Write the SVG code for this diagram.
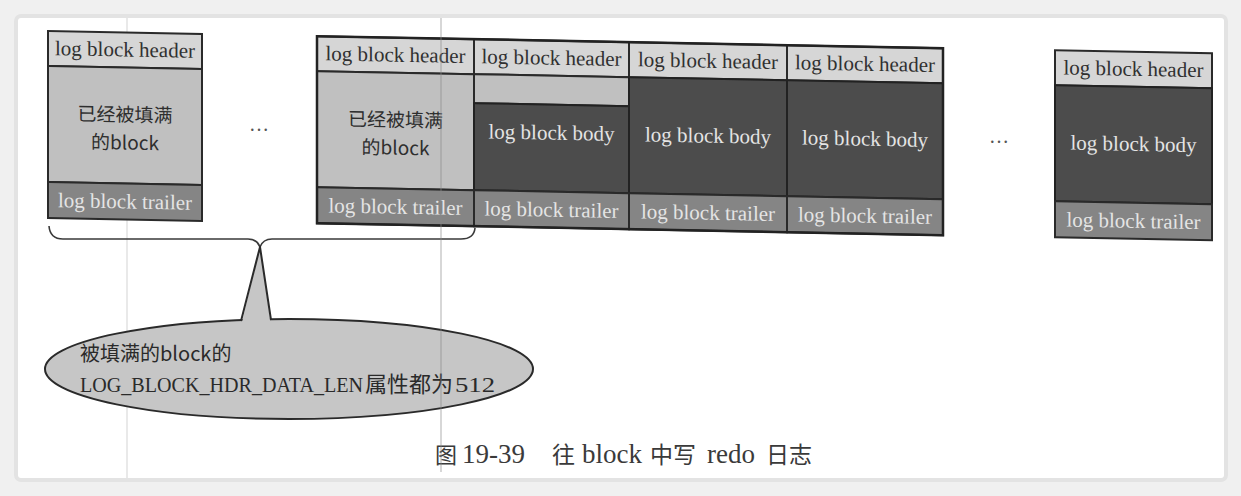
<svg xmlns="http://www.w3.org/2000/svg" width="1241" height="496" viewBox="0 0 1241 496">
<style>
.hdr{fill:#d6d6d6;stroke:#2a2a2a;stroke-width:2}
.fill{fill:#c0c0c0;stroke:#2a2a2a;stroke-width:2}
.body{fill:#4c4c4c;stroke:#222;stroke-width:2}
.trl{fill:#858585;stroke:#2a2a2a;stroke-width:2}
.lt{font-family:"Liberation Serif",serif;font-size:21px;text-anchor:middle}
.dk{fill:#303030}
.wh{fill:#e4e4e4}
.cn{font-family:"Noto Sans CJK SC",sans-serif;font-size:19px;text-anchor:middle;fill:#2e2e2e}
.dots{font-family:"Liberation Serif",serif;font-size:20px;fill:#555;text-anchor:middle}
</style>
<rect x="0" y="0" width="1241" height="496" fill="#f0f0f0"/>
<rect x="14" y="14" width="1214" height="468" rx="7" fill="#e3e3e3"/>
<rect x="18" y="18" width="1206" height="460" rx="3" fill="#ffffff"/>
<line x1="127" y1="18" x2="127" y2="478" stroke="#e2e2e2" stroke-width="1.5"/>

<g id="blocks" transform="translate(48,31) skewY(1.1) translate(-48,-31)">
  <g id="block1">
    <rect class="hdr" x="48" y="31" width="154" height="35"/>
    <rect class="fill" x="48" y="66" width="154" height="116"/>
    <rect class="trl" x="48" y="182" width="154" height="36"/>
    <text class="lt dk" x="125" y="55">log block header</text>
    <text class="cn" x="125" y="120">已经被填满</text>
    <text class="cn" x="125" y="148">的block</text>
    <text class="lt wh" x="125" y="207">log block trailer</text>
  </g>
  <g id="block2a">
    <rect class="hdr" x="317" y="31" width="157" height="35"/>
    <rect class="fill" x="317" y="66" width="157" height="116"/>
    <rect class="trl" x="317" y="182" width="157" height="36"/>
    <text class="lt dk" x="395.5" y="55">log block header</text>
    <text class="cn" x="395.5" y="120">已经被填满</text>
    <text class="cn" x="395.5" y="148">的block</text>
    <text class="lt wh" x="395.5" y="207">log block trailer</text>
  </g>
  <g id="block2b">
    <rect class="hdr" x="474" y="31" width="155" height="35"/>
    <rect class="fill" x="474" y="66" width="155" height="29"/>
    <rect class="body" x="474" y="95" width="155" height="87"/>
    <rect class="trl" x="474" y="182" width="155" height="36"/>
    <text class="lt dk" x="551.5" y="55">log block header</text>
    <text class="lt wh" x="551.5" y="130">log block body</text>
    <text class="lt wh" x="551.5" y="207">log block trailer</text>
  </g>
  <g id="block2c">
    <rect class="hdr" x="629" y="31" width="158" height="35"/>
    <rect class="body" x="629" y="66" width="158" height="116"/>
    <rect class="trl" x="629" y="182" width="158" height="36"/>
    <text class="lt dk" x="708" y="55">log block header</text>
    <text class="lt wh" x="708" y="130">log block body</text>
    <text class="lt wh" x="708" y="207">log block trailer</text>
  </g>
  <g id="block2d">
    <rect class="hdr" x="787" y="31" width="156" height="35"/>
    <rect class="body" x="787" y="66" width="156" height="116"/>
    <rect class="trl" x="787" y="182" width="156" height="36"/>
    <text class="lt dk" x="865" y="55">log block header</text>
    <text class="lt wh" x="865" y="130">log block body</text>
    <text class="lt wh" x="865" y="207">log block trailer</text>
  </g>
  <rect x="317" y="31" width="626" height="187" fill="none" stroke="#222" stroke-width="2.5"/>
  <g id="block3">
    <rect class="hdr" x="1055" y="31" width="157" height="35"/>
    <rect class="body" x="1055" y="66" width="157" height="116"/>
    <rect class="trl" x="1055" y="182" width="157" height="36"/>
    <text class="lt dk" x="1133.5" y="55">log block header</text>
    <text class="lt wh" x="1133.5" y="130">log block body</text>
    <text class="lt wh" x="1133.5" y="207">log block trailer</text>
  </g>
</g>

<g id="ellipsis1"><text class="dots" x="259" y="131">…</text></g>
<g id="ellipsis2"><text class="dots" x="999" y="143">…</text></g>

<g id="connectors">
  <path d="M49,226 Q50,239 63,239 L248,239 Q257,239 260,247 Q263,239 272,239 L461,239 Q474,239 475,228" fill="none" stroke="#3a3a3a" stroke-width="1.6"/>
</g>

<g id="callout">
  <ellipse cx="289" cy="369" rx="244" ry="50" fill="#c6c6c6" stroke="#2a2a2a" stroke-width="2"/>
  <polygon points="241,326 260,247 271,326" fill="#c6c6c6"/>
  <polyline points="241,321 260,247 271,320" fill="none" stroke="#2a2a2a" stroke-width="2" stroke-linejoin="round"/>
  <text font-family="Noto Sans CJK SC, sans-serif" font-size="20" fill="#2a2a2a" x="80" y="361">被填满的block的</text>
  <text y="392" fill="#2a2a2a"><tspan x="80" font-family="Liberation Serif, serif" font-size="21" textLength="283" lengthAdjust="spacingAndGlyphs">LOG_BLOCK_HDR_DATA_LEN</tspan><tspan x="365" font-family="Noto Sans CJK SC, sans-serif" font-size="22">属性都为</tspan><tspan x="455" font-family="Liberation Serif, serif" font-size="22" textLength="40" lengthAdjust="spacingAndGlyphs">512</tspan></text>
</g>

<g id="caption">
  <text y="463" fill="#3a3a3a"><tspan x="435" font-family="Noto Sans CJK SC, sans-serif" font-size="22">图</tspan><tspan x="462" font-family="Liberation Serif, serif" font-size="27">19-39</tspan><tspan x="552" font-family="Noto Sans CJK SC, sans-serif" font-size="23">往</tspan><tspan x="582" font-family="Liberation Serif, serif" font-size="27">block</tspan><tspan x="650" font-family="Noto Sans CJK SC, sans-serif" font-size="23">中写</tspan><tspan x="707" font-family="Liberation Serif, serif" font-size="27">redo</tspan><tspan x="766" font-family="Noto Sans CJK SC, sans-serif" font-size="23">日志</tspan></text>
</g>

<line x1="441" y1="18" x2="441" y2="472" stroke="#8a8a8a" stroke-width="1.5" opacity="0.45"/>
</svg>
